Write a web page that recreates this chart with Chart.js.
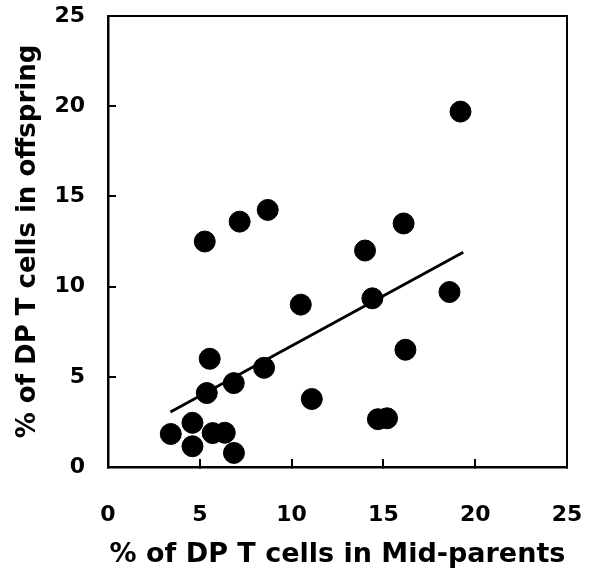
<!DOCTYPE html>
<html>
<head>
<meta charset="utf-8">
<script src="https://cdn.jsdelivr.net/npm/chart.js@4"></script>
<style>
  body { margin: 0; background: #fff; }
  #wrap { width: 593px; height: 573px; }
</style>
</head>
<body>
<div id="wrap"><canvas id="chart" width="593" height="573"></canvas></div>
<script>
// values
const midParents = [5.27, 7.17, 8.7, 19.2, 16.1, 14.0, 5.54, 5.38, 6.85, 8.5, 3.42, 4.6, 4.6, 5.7, 6.36, 6.86, 10.5, 14.4, 18.6, 16.2, 11.1, 14.7, 15.2];
const offspring  = [12.5, 13.6, 14.25, 19.7, 13.5, 12.0, 6.0, 4.1, 4.65, 5.5, 1.83, 2.45, 1.15, 1.88, 1.9, 0.78, 9.0, 9.35, 9.7, 6.5, 3.77, 2.65, 2.7];
const fitX = [3.4, 19.35];
const fitY = [3.05, 11.9];
const xTitle = '% of DP T cells in Mid-parents';
const yTitle = '% of DP T cells in offspring';

const font = 'DejaVu Sans';

// draws the top and right sides of the frame
const frame = {
    id: 'frame',
    afterDraw(chart) {
        const a = chart.chartArea;
        const ctx = chart.ctx;
        ctx.save();
        ctx.strokeStyle = '#000';
        ctx.lineWidth = 2;
        ctx.beginPath();
        ctx.moveTo(a.left, a.top);
        ctx.lineTo(a.right, a.top);
        ctx.lineTo(a.right, a.bottom);
        ctx.stroke();
        ctx.restore();
    }
};

new Chart(document.getElementById('chart'), {
    data: {
        datasets: [
            {
                type: 'scatter',
                data: midParents.map((x, i) => ({x: x, y: offspring[i]})),
                backgroundColor: '#000',
                borderColor: '#000',
                pointRadius: 10.5,
                pointHoverRadius: 10.5
            },
            {
                type: 'line',
                data: fitX.map((x, i) => ({x: x, y: fitY[i]})),
                borderColor: '#000',
                borderWidth: 2.8,
                pointRadius: 0,
                fill: false
            }
        ]
    },
    options: {
        responsive: false,
        animation: false,
        layout: { autoPadding: false, padding: { top: 16, right: 26, left: 0, bottom: 0 } },
        plugins: { legend: { display: false }, tooltip: { enabled: false } },
        scales: {
            x: {
                type: 'linear',
                min: 0, max: 25,
                afterFit(s) { s.height = 106; s.paddingLeft = 0; s.paddingRight = 0; },
                ticks: { stepSize: 5, padding: 43, color: '#000', font: { family: font, size: 22, weight: 'bold' } },
                grid: { drawOnChartArea: false, drawTicks: true, tickLength: -8, color: '#000', lineWidth: 2 },
                border: { display: true, color: '#000', width: 2.5 },
                title: { display: true, text: xTitle, color: '#000', padding: { bottom: 2 }, font: { family: font, size: 27, weight: 'bold' } }
            },
            y: {
                type: 'linear',
                min: 0, max: 25,
                afterFit(s) { s.width = 108; s.paddingTop = 0; s.paddingBottom = 0; },
                ticks: { stepSize: 5, padding: 31, color: '#000', font: { family: font, size: 22, weight: 'bold' } },
                grid: { drawOnChartArea: false, drawTicks: true, tickLength: -8, color: '#000', lineWidth: 2 },
                border: { display: true, color: '#000', width: 2.5 },
                title: { display: true, text: yTitle, color: '#000', padding: { top: 13 }, font: { family: font, size: 26, weight: 'bold' } }
            }
        }
    },
    plugins: [frame]
});
</script>
</body>
</html>
